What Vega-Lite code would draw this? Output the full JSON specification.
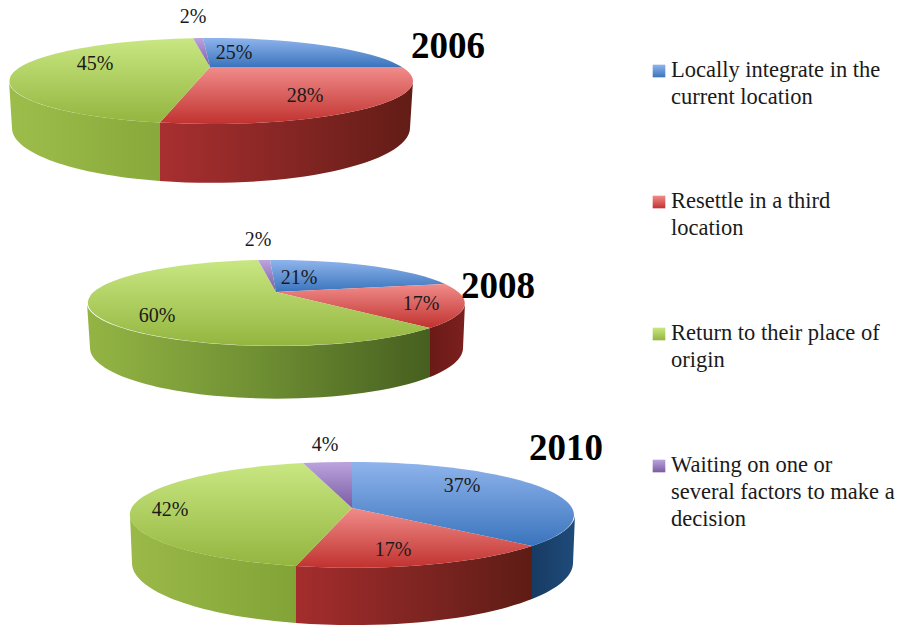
{
"$schema":"https://vega.github.io/schema/vega-lite/v6.json",
"width":900,"height":627,"padding":0,"autosize":{"type":"none"},"background":"white",
"config":{"view":{"stroke":null}},
"datasets":{
"slices":[
{"n":0,"id":"2006 L","year":2006,"category":"Locally integrate in the current location","share":0.25},
{"n":1,"id":"2006 R","year":2006,"category":"Resettle in a third location","share":0.28},
{"n":2,"id":"2006 O","year":2006,"category":"Return to their place of origin","share":0.45},
{"n":3,"id":"2006 W","year":2006,"category":"Waiting on one or several factors to make a decision","share":0.02},
{"n":4,"id":"2008 L","year":2008,"category":"Locally integrate in the current location","share":0.21},
{"n":5,"id":"2008 R","year":2008,"category":"Resettle in a third location","share":0.17},
{"n":6,"id":"2008 O","year":2008,"category":"Return to their place of origin","share":0.60},
{"n":7,"id":"2008 W","year":2008,"category":"Waiting on one or several factors to make a decision","share":0.02},
{"n":8,"id":"2010 L","year":2010,"category":"Locally integrate in the current location","share":0.37},
{"n":9,"id":"2010 R","year":2010,"category":"Resettle in a third location","share":0.17},
{"n":10,"id":"2010 O","year":2010,"category":"Return to their place of origin","share":0.42},
{"n":11,"id":"2010 W","year":2010,"category":"Waiting on one or several factors to make a decision","share":0.04}
],
"years":[{"year":2006},{"year":2008},{"year":2010}],
"legend":[
{"order":0,"category":"Locally integrate in the current location","label":"Locally integrate in the\ncurrent location"},
{"order":1,"category":"Resettle in a third location","label":"Resettle in a third\nlocation"},
{"order":2,"category":"Return to their place of origin","label":"Return to their place of\norigin"},
{"order":3,"category":"Waiting on one or several factors to make a decision","label":"Waiting on one or\nseveral factors to make a\ndecision"}
]},
"encoding":{
  "x":{"field":"year","type":"quantitative","axis":null,"scale":{"domain":[2006,2008,2010],"range":[210,276,352],"zero":false,"nice":false}},
  "y":{"field":"year","type":"quantitative","axis":null,"scale":{"domain":[2006,2008,2010],"range":[67,292,508],"zero":false,"nice":false}}
},
"layer":[
{"data":{"name":"slices"},"transform":[{"filter":"datum.id==='2006 R'"}],
 "mark":{"type":"point","filled":true,"size":4,"opacity":1,"strokeWidth":0,"shape":"M-50,55.6A202,43 0 0 0 203,14L200,61A199,55 0 0 1 -50,114Z",
  "color":{"gradient":"linear","x1":0,"y1":0,"x2":1,"y2":0,"stops":[{"offset":0,"color":"#a82f30"},{"offset":0.5,"color":"#862624"},{"offset":1,"color":"#621c16"}]}}},
{"data":{"name":"slices"},"transform":[{"filter":"datum.id==='2006 O'"}],
 "mark":{"type":"point","filled":true,"size":4,"opacity":1,"strokeWidth":0,"shape":"M-50,55.6A202,43 0 0 1 -201,14L-198,61A199,55 0 0 0 -50,114Z",
  "color":{"gradient":"linear","x1":0,"y1":0,"x2":1,"y2":0,"stops":[{"offset":0,"color":"#9dbd4b"},{"offset":1,"color":"#88a93b"}]}}},
{"data":{"name":"slices"},"transform":[{"filter":"datum.id==='2008 R'"}],
 "mark":{"type":"point","filled":true,"size":4,"opacity":1,"strokeWidth":0,"shape":"M154,36A189,43 0 0 0 189,11L187,56A187,51 0 0 1 154,85Z",
  "color":{"gradient":"linear","x1":0,"y1":0,"x2":1,"y2":0,"stops":[{"offset":0,"color":"#6a1a18"},{"offset":1,"color":"#7c201e"}]}}},
{"data":{"name":"slices"},"transform":[{"filter":"datum.id==='2008 O'"}],
 "mark":{"type":"point","filled":true,"size":4,"opacity":1,"strokeWidth":0,"shape":"M154,36A189,43 0 0 1 -189,11L-186,56A187,51 0 0 0 154,85Z",
  "color":{"gradient":"linear","x1":0,"y1":0,"x2":1,"y2":0,"stops":[{"offset":0,"color":"#94b544"},{"offset":0.5,"color":"#6f8f33"},{"offset":1,"color":"#465f1f"}]}}},
{"data":{"name":"slices"},"transform":[{"filter":"datum.id==='2010 L'"}],
 "mark":{"type":"point","filled":true,"size":4,"opacity":1,"strokeWidth":0,"shape":"M180,38A222,53 0 0 0 223,7L221,55A220,62 0 0 1 180,91Z",
  "color":{"gradient":"linear","x1":0,"y1":0,"x2":1,"y2":0,"stops":[{"offset":0,"color":"#173b63"},{"offset":1,"color":"#1f4b7a"}]}}},
{"data":{"name":"slices"},"transform":[{"filter":"datum.id==='2010 R'"}],
 "mark":{"type":"point","filled":true,"size":4,"opacity":1,"strokeWidth":0,"shape":"M180,38A222,53 0 0 1 -56,58L-56,115A220,62 0 0 0 180,91Z",
  "color":{"gradient":"linear","x1":0,"y1":0,"x2":1,"y2":0,"stops":[{"offset":0,"color":"#a42d2d"},{"offset":0.5,"color":"#802522"},{"offset":1,"color":"#5e1c15"}]}}},
{"data":{"name":"slices"},"transform":[{"filter":"datum.id==='2010 O'"}],
 "mark":{"type":"point","filled":true,"size":4,"opacity":1,"strokeWidth":0,"shape":"M-56,58A222,53 0 0 1 -222,7L-220,55A220,62 0 0 0 -56,115Z",
  "color":{"gradient":"linear","x1":0,"y1":0,"x2":1,"y2":0,"stops":[{"offset":0,"color":"#9ab949"},{"offset":1,"color":"#82a336"}]}}},
{"data":{"name":"slices"},"transform":[{"filter":"datum.id[5]==='L'"}],
 "mark":{"type":"point","filled":true,"size":4,"opacity":1,"strokeWidth":0,
  "color":{"gradient":"linear","x1":0,"y1":0,"x2":0,"y2":1,"stops":[{"offset":0,"color":"#8fb4ec"},{"offset":1,"color":"#3a74bd"}]}},
 "encoding":{"shape":{"field":"id","type":"nominal","legend":null,"scale":{"domain":["2006 L","2008 L","2010 L"],"range":["M0,0L-7,-29A202,43 0 0 1 192,0Z","M0,0L-6,-32A189,43 0 0 1 169,-8Z","M0,0L0,-46A222,53 0 0 1 180,38Z"]}}}},
{"data":{"name":"slices"},"transform":[{"filter":"datum.id[5]==='R'"}],
 "mark":{"type":"point","filled":true,"size":4,"opacity":1,"strokeWidth":0,
  "color":{"gradient":"linear","x1":0,"y1":0,"x2":0,"y2":1,"stops":[{"offset":0,"color":"#f08c8a"},{"offset":1,"color":"#c1322f"}]}},
 "encoding":{"shape":{"field":"id","type":"nominal","legend":null,"scale":{"domain":["2006 R","2008 R","2010 R"],"range":["M0,0L192,0A202,43 0 0 1 -50,55.6Z","M0,0L169,-8A189,43 0 0 1 154,36Z","M0,0L180,38A222,53 0 0 1 -56,58Z"]}}}},
{"data":{"name":"slices"},"transform":[{"filter":"datum.id[5]==='O'"}],
 "mark":{"type":"point","filled":true,"size":4,"opacity":1,"strokeWidth":0,
  "color":{"gradient":"linear","x1":0,"y1":0,"x2":0,"y2":1,"stops":[{"offset":0,"color":"#c8e782"},{"offset":1,"color":"#94b53f"}]}},
 "encoding":{"shape":{"field":"id","type":"nominal","legend":null,"scale":{"domain":["2006 O","2008 O","2010 O"],"range":["M0,0L-50,55.6A202,43 0 0 1 -17,-28.8Z","M0,0L154,36A189,43 0 1 1 -18,-32Z","M0,0L-56,58A222,53 0 0 1 -49,-45Z"]}}}},
{"data":{"name":"slices"},"transform":[{"filter":"datum.id[5]==='W'"}],
 "mark":{"type":"point","filled":true,"size":4,"opacity":1,"strokeWidth":0,
  "color":{"gradient":"linear","x1":0,"y1":0,"x2":0,"y2":1,"stops":[{"offset":0,"color":"#bba4de"},{"offset":1,"color":"#7b5ba2"}]}},
 "encoding":{"shape":{"field":"id","type":"nominal","legend":null,"scale":{"domain":["2006 W","2008 W","2010 W"],"range":["M0,0L-17,-28.8A202,43 0 0 1 -7,-29Z","M0,0L-18,-32A189,43 0 0 1 -6,-32Z","M0,0L-49,-45A222,53 0 0 1 0,-46Z"]}}}},
{"data":{"name":"slices"},
 "mark":{"type":"text","font":"Liberation Serif","fontSize":20,"color":"#1a1a1a","align":"center","baseline":"middle"},
 "encoding":{
  "x":{"field":"n","type":"quantitative","axis":null,"scale":{"domain":[0,1,2,3,4,5,6,7,8,9,10,11],"range":[234,305,95,193,299,421,157,258,462,393,170,325],"zero":false,"nice":false}},
  "y":{"field":"n","type":"quantitative","axis":null,"scale":{"domain":[0,1,2,3,4,5,6,7,8,9,10,11],"range":[53,96,64,17,278,304,316,240,486,550,510,445],"zero":false,"nice":false}},
  "text":{"field":"share","type":"quantitative","format":".0%"}
 }},
{"data":{"name":"years"},
 "mark":{"type":"text","font":"Liberation Serif","fontSize":37,"fontWeight":"bold","color":"#000000","align":"center","baseline":"middle"},
 "encoding":{
  "x":{"field":"year","type":"quantitative","axis":null,"scale":{"domain":[2006,2008,2010],"range":[448,498,566],"zero":false,"nice":false}},
  "y":{"field":"year","type":"quantitative","axis":null,"scale":{"domain":[2006,2008,2010],"range":[47,287,449],"zero":false,"nice":false}},
  "text":{"field":"year","type":"quantitative","format":"d"}
 }},
{"data":{"name":"legend"},"transform":[{"filter":"datum.order===0"}],
 "mark":{"type":"point","filled":true,"shape":"square","size":160,"opacity":1,"strokeWidth":0,
  "color":{"gradient":"linear","x1":0,"y1":0,"x2":0,"y2":1,"stops":[{"offset":0,"color":"#8fb4ec"},{"offset":1,"color":"#3a74bd"}]}},
 "encoding":{
  "x":{"field":"order","type":"quantitative","axis":null,"scale":{"domain":[0,3],"range":[659,659],"zero":false,"nice":false}},
  "y":{"field":"order","type":"quantitative","axis":null,"scale":{"domain":[0,1,2,3],"range":[71,202,334,466],"zero":false,"nice":false}}}},
{"data":{"name":"legend"},"transform":[{"filter":"datum.order===1"}],
 "mark":{"type":"point","filled":true,"shape":"square","size":160,"opacity":1,"strokeWidth":0,
  "color":{"gradient":"linear","x1":0,"y1":0,"x2":0,"y2":1,"stops":[{"offset":0,"color":"#f08c8a"},{"offset":1,"color":"#c1322f"}]}},
 "encoding":{
  "x":{"field":"order","type":"quantitative","axis":null,"scale":{"domain":[0,3],"range":[659,659],"zero":false,"nice":false}},
  "y":{"field":"order","type":"quantitative","axis":null,"scale":{"domain":[0,1,2,3],"range":[71,202,334,466],"zero":false,"nice":false}}}},
{"data":{"name":"legend"},"transform":[{"filter":"datum.order===2"}],
 "mark":{"type":"point","filled":true,"shape":"square","size":160,"opacity":1,"strokeWidth":0,
  "color":{"gradient":"linear","x1":0,"y1":0,"x2":0,"y2":1,"stops":[{"offset":0,"color":"#c8e782"},{"offset":1,"color":"#94b53f"}]}},
 "encoding":{
  "x":{"field":"order","type":"quantitative","axis":null,"scale":{"domain":[0,3],"range":[659,659],"zero":false,"nice":false}},
  "y":{"field":"order","type":"quantitative","axis":null,"scale":{"domain":[0,1,2,3],"range":[71,202,334,466],"zero":false,"nice":false}}}},
{"data":{"name":"legend"},"transform":[{"filter":"datum.order===3"}],
 "mark":{"type":"point","filled":true,"shape":"square","size":160,"opacity":1,"strokeWidth":0,
  "color":{"gradient":"linear","x1":0,"y1":0,"x2":0,"y2":1,"stops":[{"offset":0,"color":"#bba4de"},{"offset":1,"color":"#7b5ba2"}]}},
 "encoding":{
  "x":{"field":"order","type":"quantitative","axis":null,"scale":{"domain":[0,3],"range":[659,659],"zero":false,"nice":false}},
  "y":{"field":"order","type":"quantitative","axis":null,"scale":{"domain":[0,1,2,3],"range":[71,202,334,466],"zero":false,"nice":false}}}},
{"data":{"name":"legend"},
 "mark":{"type":"text","font":"Liberation Serif","fontSize":22.5,"color":"#1a1a1a","align":"left","baseline":"top","lineBreak":"\n","lineHeight":27},
 "encoding":{
  "x":{"field":"order","type":"quantitative","axis":null,"scale":{"domain":[0,3],"range":[671,671],"zero":false,"nice":false}},
  "y":{"field":"order","type":"quantitative","axis":null,"scale":{"domain":[0,1,2,3],"range":[59,190,322,454],"zero":false,"nice":false}},
  "text":{"field":"label","type":"nominal"}
 }}
],
"resolve":{"scale":{"x":"independent","y":"independent","shape":"independent"}}
}
